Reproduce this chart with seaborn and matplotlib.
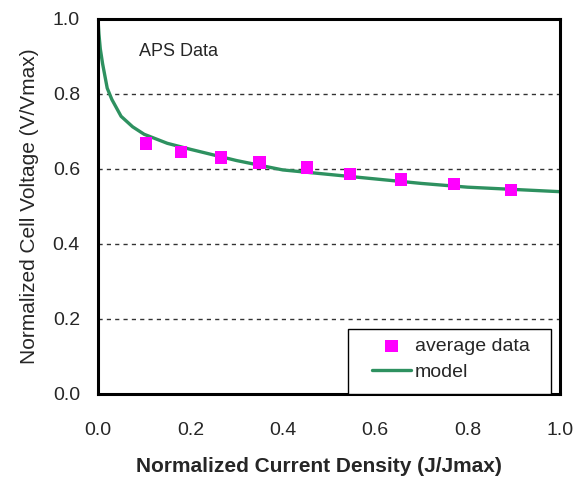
import numpy as np
import pandas as pd
import matplotlib
matplotlib.use("Agg")
import matplotlib.pyplot as plt
from matplotlib.patches import Rectangle
import seaborn as sns

# measured points (average data)
j_data = [0.104, 0.180, 0.266, 0.350, 0.452, 0.546, 0.656, 0.771, 0.894]
v_data = [0.667, 0.645, 0.630, 0.617, 0.603, 0.586, 0.571, 0.560, 0.544]

# model curve
j_model = [0.0, 0.002, 0.005, 0.01, 0.02, 0.03, 0.05, 0.075, 0.1, 0.15, 0.2,
           0.3, 0.4, 0.5, 0.6, 0.7, 0.8, 0.9, 1.0]
v_model = [1.0, 0.96, 0.92, 0.88, 0.815, 0.785, 0.74, 0.712, 0.692, 0.668, 0.652,
           0.622, 0.597, 0.585, 0.573, 0.561, 0.551, 0.545, 0.539]

tick_vals = [0.0, 0.2, 0.4, 0.6, 0.8, 1.0]
tick_labels = ["0.0", "0.2", "0.4", "0.6", "0.8", "1.0"]

sns.set_style("white")
plt.rcParams['font.family'] = ['Liberation Sans', 'DejaVu Sans']

fig = plt.figure(figsize=(5.73, 4.82), dpi=100)
ax = fig.add_axes([0.171, 0.183, 0.806, 0.778])

df_model = pd.DataFrame({"j": j_model, "v": v_model})
df_data = pd.DataFrame({"j": j_data, "v": v_data})

sns.lineplot(data=df_model, x="j", y="v", ax=ax, color="#2e9160", lw=2.4,
             label="model", zorder=2)
sns.scatterplot(data=df_data, x="j", y="v", ax=ax, color="#ff00ff", marker="s",
                s=80, edgecolor="none", label="average data", zorder=3)

ax.set_xlim(0, 1.0)
ax.set_ylim(0, 1.0)
ax.set_xticks(tick_vals)
ax.set_yticks(tick_vals)
ax.set_xticks(np.arange(0.1, 1.0, 0.2), minor=True)
ax.set_yticks(np.arange(0.1, 1.0, 0.2), minor=True)
ax.set_xticklabels(tick_labels)
ax.set_yticklabels(tick_labels)
ax.tick_params(which="both", direction="in", length=4, width=2, labelsize=14,
               color="black")
ax.tick_params(axis="x", which="major", pad=20)
ax.tick_params(axis="y", which="major", pad=13)

for y in [0.2, 0.4, 0.6, 0.8]:
    ax.axhline(y, color="#333333", ls=(0, (3, 3)), lw=1, zorder=1)

for s in ax.spines.values():
    s.set_visible(True)
    s.set_color("black")
    s.set_linewidth(2.2)

ax.set_xlabel("Normalized Current Density (J/Jmax)", fontsize=15,
              fontweight="bold")
ax.xaxis.set_label_coords(0.478, -0.168)
ax.set_ylabel("Normalized Cell Voltage (V/Vmax)", fontsize=15, labelpad=10)

ax.text(0.089, 0.912, "APS Data", fontsize=13, transform=ax.transAxes,
        va="center", ha="left")

# legend frame box sitting on the bottom axis
ax.add_patch(Rectangle((0.541, 0.0), 0.439, 0.173, transform=ax.transAxes,
                       facecolor="white", edgecolor="black", lw=1.0, zorder=4))

handles, labels = ax.get_legend_handles_labels()
order = [labels.index("average data"), labels.index("model")]
leg = ax.legend([handles[i] for i in order], [labels[i] for i in order],
                loc="center left", bbox_to_anchor=(0.593, 0.092), fontsize=14,
                frameon=False, borderpad=0, handlelength=2.0,
                handletextpad=0.2, labelspacing=0.45, borderaxespad=0)
leg.set_zorder(5)

fig.savefig("out.png", dpi=100)
